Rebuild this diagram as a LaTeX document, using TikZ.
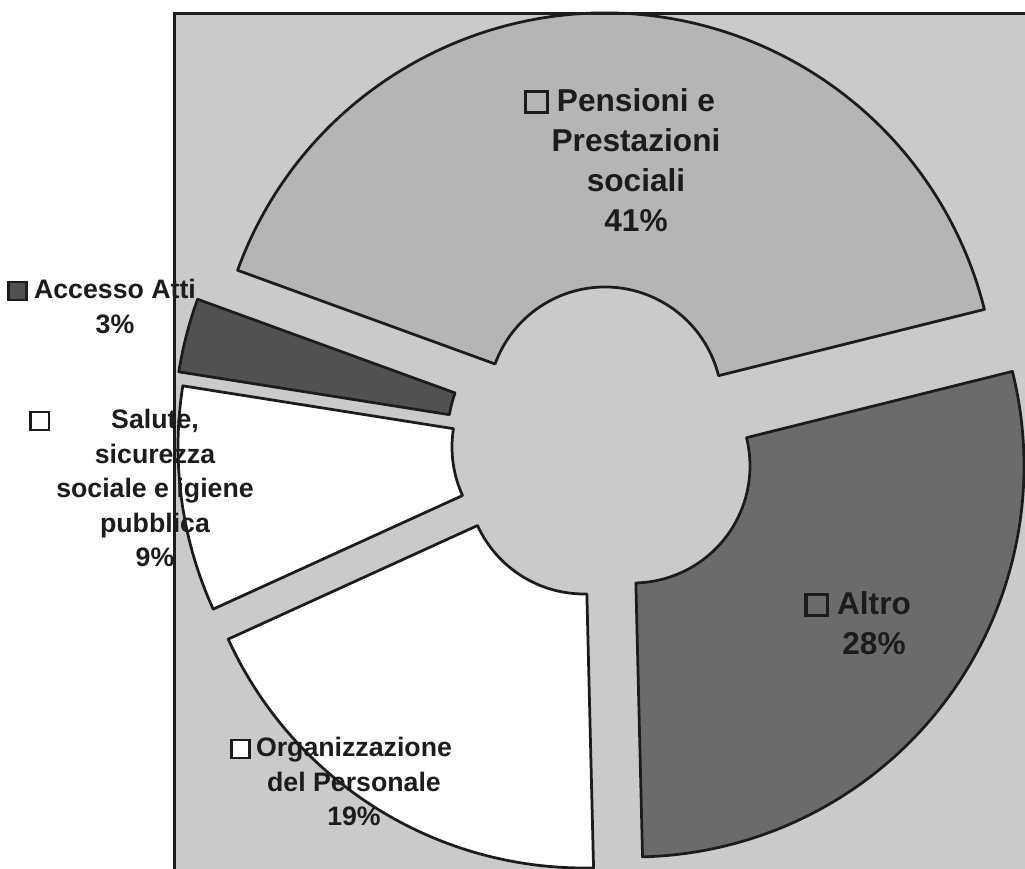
\documentclass[tikz,border=0pt]{standalone}
\RequirePackage{fontspec}
\RequirePackage{tikz}
\RequirePackage{tkz-euclide}
\usetikzlibrary{calc}
\setmainfont{Liberation Sans}

\definecolor{plotgray}{HTML}{CACACA}
\definecolor{pensgray}{HTML}{B5B5B5}
\definecolor{altrogray}{HTML}{6B6B6B}
\definecolor{attigray}{HTML}{515151}
\definecolor{inkgray}{HTML}{1C1C1C}

\newcommand{\rIn}{117}
\newcommand{\rOut}{391}
\newcommand{\legkey}[1]{{\fboxsep=0pt\fboxrule=0.1em\fcolorbox{inkgray}{#1}{\rule{0pt}{0.58em}\rule{0.58em}{0pt}}}}
\newcommand{\ringslice}[4]{\filldraw[slice,fill=#4] ($(#1)+(#2:\rIn)$) -- ($(#1)+(#2:\rOut)$)
   arc[start angle=#2,end angle=#3,radius=\rOut] -- ($(#1)+(#3:\rIn)$)
   arc[start angle=#3,end angle=#2,radius=\rIn] -- cycle;}

\tikzset{slice/.style={draw=inkgray,line width=0.055cm,line join=round},
         frame/.style={draw=inkgray,line width=0.06cm},
         biglabel/.style={align=center,inner sep=0pt,anchor=north,text=inkgray,
                          font=\fontsize{18}{22.8}\selectfont\bfseries},
         smalllabel/.style={align=center,inner sep=0pt,anchor=north,text=inkgray,
                            font=\fontsize{15.2}{19.6}\selectfont\bfseries}}

\begin{document}
\begin{tikzpicture}[x=0.02cm,y=0.02cm]
                \useasboundingbox (0,0) rectangle (1025,869);
                \fill[white] (0,0) rectangle (1025,869);
                \clip (0,0) rectangle (1025,869);
                \fill[plotgray] (174,0) rectangle (1025,855);

                \tkzDefPoint(605,465){Pens}
                \tkzDefPoint(633,403){Altro}
                \tkzDefPoint(584,392){Org}
                \tkzDefPoint(569,422){Salute}
                \tkzDefPoint(565,436){Atti}

                \ringslice{Pens}{160}{14}{pensgray}
                \ringslice{Altro}{14}{-88.6}{altrogray}
                \ringslice{Org}{-88.6}{-155.5}{white}
                \ringslice{Salute}{-155.5}{-189}{white}
                \ringslice{Atti}{171}{160}{attigray}

                \node[biglabel] (pensLbl) at (636,781)
                    {\llap{\legkey{pensgray}\hspace{0.16cm}}Pensioni e\\Prestazioni\\sociali\\41\%};
                \node[biglabel] (altroLbl) at (874,278)
                    {\llap{\legkey{altrogray}\hspace{0.16cm}}Altro\\28\%};
                \node[smalllabel] (orgLbl) at (354,132)
                    {\llap{\legkey{white}\hspace{0.1cm}}Organizzazione\\del Personale\\19\%};
                \node[smalllabel] (saluteLbl) at (155,460)
                    {\llap{\legkey{white}\hspace{1.22cm}}Salute,\\sicurezza\\sociale e igiene\\pubblica\\9\%};
                \node[smalllabel] (attiLbl) at (115,590)
                    {\llap{\legkey{attigray}\hspace{0.12cm}}Accesso Atti\\3\%};

                \draw[frame] (174,0) -- (174,855) -- (1025,855);
            \end{tikzpicture}
\end{document}
